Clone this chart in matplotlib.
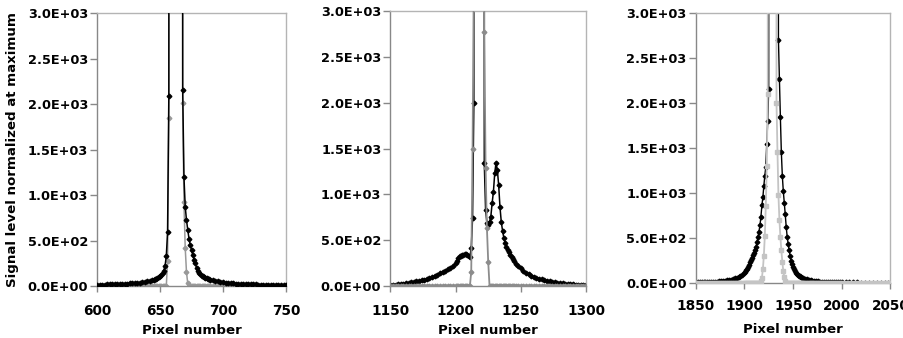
import matplotlib
matplotlib.use("Agg")
import matplotlib.pyplot as plt
from matplotlib.ticker import FormatStrFormatter

# ---- panel 1 : 600-750 ----
px1 = [600, 602, 604, 606, 608, 610, 612, 614, 616, 618, 620, 622, 624, 626, 628, 630,
       632, 634, 636, 638, 640, 642, 644,
       645, 646, 647, 648, 649, 650, 651, 652, 653, 654, 655, 656, 657, 658, 660, 662,
       664, 666, 667, 668, 669, 670, 671, 672, 673, 674, 675, 676, 677, 678, 679, 680,
       681, 682, 683, 684, 685, 686, 687, 688, 689, 690,
       692, 694, 696, 698, 700, 702, 704, 706, 708, 710, 712, 714, 716, 718, 720, 722,
       724, 726, 728, 730, 732, 734, 736, 738, 740, 742, 744, 746, 748, 750]
sig1 = [15, 15, 16, 16, 17, 17, 18, 19, 20, 21, 22, 24, 26, 28, 30, 32,
        35, 38, 42, 46, 50, 56, 63,
        68, 74, 80, 88, 98, 110, 125, 142, 170, 220, 330, 594, 2090, 60000, 90000, 100000,
        90000, 60000, 40000, 2156, 1200, 873, 726, 620, 520, 450, 396, 340, 290, 250, 200, 170,
        145, 128, 115, 105, 98, 92, 86, 80, 75, 70,
        62, 56, 50, 45, 40, 37, 34, 31, 29, 27, 25, 24, 22, 21, 20, 19,
        18, 17, 16, 15, 15, 14, 13, 13, 12, 12, 11, 11, 10, 10]
ref1 = [0, 0, 0, 0, 0, 0, 0, 0, 0, 0, 0, 0, 0, 0, 0, 0,
        0, 0, 0, 0, 0, 0, 0,
        0, 0, 0, 0, 0, 0, 0, 0, 0, 0, 0, 280, 1850, 60000, 90000, 100000,
        90000, 60000, 40000, 2016, 920, 420, 155, 30, 0, 0, 0, 0, 0, 0, 0, 0,
        0, 0, 0, 0, 0, 0, 0, 0, 0, 0,
        0, 0, 0, 0, 0, 0, 0, 0, 0, 0, 0, 0, 0, 0, 0, 0,
        0, 0, 0, 0, 0, 0, 0, 0, 0, 0, 0, 0, 0, 0]

# ---- panel 2 : 1150-1300 ----
px2 = [1150, 1152, 1154, 1156, 1158, 1160, 1162, 1164, 1166, 1168, 1170, 1172, 1174,
       1176, 1178, 1180, 1182, 1184, 1186, 1188, 1190, 1192, 1194, 1196, 1198, 1200,
       1201, 1202, 1203, 1204, 1205, 1206, 1207, 1208, 1209, 1210, 1211, 1212, 1213,
       1214, 1215, 1218, 1221, 1222, 1223, 1224, 1225, 1226, 1227, 1228, 1229, 1230,
       1231, 1232, 1233, 1234, 1235, 1236, 1237, 1238, 1239, 1240, 1241, 1242, 1243,
       1244, 1245,
       1246, 1248, 1250, 1252, 1254, 1256, 1258, 1260, 1262, 1264, 1266, 1268, 1270,
       1272, 1274, 1276, 1278, 1280, 1282, 1284, 1286, 1288, 1290, 1292, 1294, 1296,
       1298, 1300]
sig2 = [8, 10, 12, 14, 17, 20, 25, 30, 36, 42, 48, 54, 60,
        66, 74, 84, 96, 110, 122, 136, 150, 165, 178, 192, 215, 250,
        270, 300, 320, 330, 335, 338, 342, 343, 335, 322, 317, 409, 737,
        1995, 60000, 90000, 60000, 1339, 828, 690, 664, 700, 755, 901, 1028, 1230,
        1345, 1266, 1102, 864, 700, 600, 520, 464, 425, 395, 365, 340, 317,
        295, 275,
        240, 215, 190, 160, 140, 125, 110, 98, 88, 78, 70, 62, 55,
        48, 42, 38, 34, 30, 26, 22, 19, 16, 14, 12, 10, 9,
        8, 7]
ref2 = [0, 0, 0, 0, 0, 0, 0, 0, 0, 0, 0, 0, 0,
        0, 0, 0, 0, 0, 0, 0, 0, 0, 0, 0, 0, 0,
        0, 0, 0, 0, 0, 0, 0, 0, 0, 0, 0, 154, 1492,
        3400, 60000, 90000, 60000, 2770, 1284, 635, 263, 0, 0, 0, 0, 0,
        0, 0, 0, 0, 0, 0, 0, 0, 0, 0, 0, 0, 0,
        0, 0,
        0, 0, 0, 0, 0, 0, 0, 0, 0, 0, 0, 0, 0,
        0, 0, 0, 0, 0, 0, 0, 0, 0, 0, 0, 0, 0,
        0, 0]

# ---- panel 3 : 1850-2050 ----
px3 = [1850, 1852, 1854, 1856, 1858, 1860, 1862, 1864, 1866, 1868, 1870, 1872, 1874,
       1876, 1878, 1880, 1882, 1884, 1886, 1888, 1890, 1892, 1894, 1896, 1898, 1900,
       1901, 1902, 1903, 1904, 1905, 1906, 1907, 1908, 1909, 1910, 1911, 1912, 1913,
       1914, 1915, 1916, 1917, 1918, 1919, 1920, 1921, 1922, 1923, 1924, 1925, 1926,
       1928, 1930, 1932, 1933, 1934, 1935, 1936, 1937, 1938, 1939, 1940, 1941, 1942,
       1943, 1944, 1945, 1946, 1947, 1948, 1949, 1950, 1951, 1952, 1953, 1954, 1955,
       1956, 1957, 1958, 1959, 1960,
       1962, 1964, 1966, 1968, 1970, 1972, 1974, 1976, 1978, 1980, 1982, 1984, 1986,
       1988, 1990, 1992, 1994, 1996, 1998, 2000, 2004, 2008, 2012, 2016, 2020, 2024,
       2028, 2032, 2036, 2040, 2044, 2048, 2050]
sig3 = [3, 3, 3, 4, 4, 5, 5, 6, 7, 8, 11, 13, 16,
        19, 22, 24, 27, 30, 35, 40, 47, 55, 63, 75, 88, 105,
        120, 138, 155, 175, 197, 225, 250, 280, 305, 335, 365, 401, 455,
        510, 570, 640, 735, 860, 950, 1080, 1190, 1290, 1550, 1800, 2154, 40000,
        90000, 100000, 90000, 70000, 40000, 2704, 2268, 1841, 1450, 1190, 1020, 890, 760,
        620, 510, 430, 360, 300, 240, 205, 175, 150, 130, 113, 100, 90,
        80, 72, 64, 57, 50,
        42, 36, 31, 27, 24, 21, 19, 16, 13, 11, 10, 9, 8,
        7, 6, 5, 5, 4, 4, 4, 3, 3, 3, 3, 2, 2,
        2, 2, 2, 2, 2, 2, 2]
ref3 = [0, 0, 0, 0, 0, 0, 0, 0, 0, 0, 0, 0, 0,
        0, 0, 0, 0, 0, 0, 0, 0, 0, 0, 0, 0, 0,
        0, 0, 0, 0, 0, 0, 0, 0, 0, 0, 0, 0, 0,
        0, 0, 0, 20, 55, 150, 300, 520, 850, 1300, 2100, 40000, 80000,
        100000, 100000, 60000, 2005, 1460, 977, 700, 512, 360, 234, 130, 60, 20,
        0, 0, 0, 0, 0, 0, 0, 0, 0, 0, 0, 0, 0,
        0, 0, 0, 0, 0,
        0, 0, 0, 0, 0, 0, 0, 0, 0, 0, 0, 0, 0,
        0, 0, 0, 0, 0, 0, 0, 0, 0, 0, 0, 0, 0,
        0, 0, 0, 0, 0, 0, 0]

xticks1 = [600, 650, 700, 750]
xticks2 = [1150, 1200, 1250, 1300]
xticks3 = [1850, 1900, 1950, 2000, 2050]
yticks = [0, 500, 1000, 1500, 2000, 2500, 3000]

plt.rcParams['font.family'] = 'DejaVu Sans'
plt.rcParams['font.weight'] = 'bold'

fig = plt.figure(figsize=(9.04, 3.38), dpi=100)
ax1 = fig.add_axes([0.1073, 0.1538, 0.2091, 0.8077])
ax2 = fig.add_axes([0.4318, 0.1547, 0.2165, 0.8119])
ax3 = fig.add_axes([0.7696, 0.1636, 0.2153, 0.7970])


def style(ax, xticks, black_on_top, tick_pad, label_y):
    ax.set_xlim(xticks[0], xticks[-1])
    ax.set_ylim(0, 3000)
    ax.set_xticks(xticks)
    ax.set_yticks(yticks)
    ax.yaxis.set_major_formatter(FormatStrFormatter('%.1E'))
    for s in ['top', 'right']:
        ax.spines[s].set_color('#b4b4b4')
    for s in ['left', 'bottom']:
        ax.spines[s].set_color('#888888')
    for s in ax.spines.values():
        s.set_linewidth(1.0)
    ax.tick_params(axis='y', direction='out', length=5, width=1, color='#888888',
                   pad=1.5, labelsize=9.3)
    ax.tick_params(axis='x', direction='out', length=4, width=1, color='#888888',
                   pad=tick_pad, labelsize=9.8)
    ax.set_xlabel('Pixel number', fontsize=9.6, fontweight='bold')
    ax.xaxis.set_label_coords(0.5, label_y)
    if black_on_top:
        return 3, 2
    return 2, 3


zb, zg = style(ax1, xticks1, True, 9.0, -0.138)
ax1.plot(px1, ref1, color='#999999', lw=1.1, marker='D', ms=2.4, zorder=zg)
ax1.plot(px1, sig1, color='black', lw=1.1, marker='D', ms=2.4, zorder=zb)
ax1.set_ylabel('Signal level normalized at maximum', fontsize=9.6, fontweight='bold')
ax1.yaxis.set_label_coords(-0.415, 0.5)

zb, zg = style(ax2, xticks2, False, 9.0, -0.138)
ax2.plot(px2, sig2, color='black', lw=1.1, marker='D', ms=2.4, zorder=zb)
ax2.plot(px2, ref2, color='#8c8c8c', lw=1.3, marker='D', ms=2.4, zorder=zg)

zb, zg = style(ax3, xticks3, False, 7.5, -0.15)
ax3.plot(px3, sig3, color='black', lw=1.0, marker='D', ms=2.4, zorder=zb)
ax3.plot(px3, ref3, color='#c4c4c4', lw=1.3, marker='s', ms=2.2, zorder=zg)

fig.savefig('out.png', dpi=100)
